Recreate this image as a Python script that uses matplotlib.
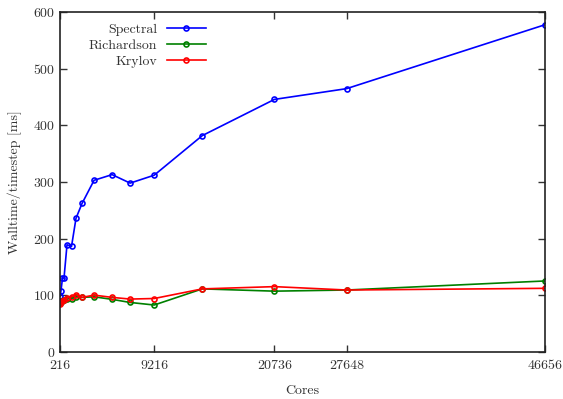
import matplotlib
matplotlib.use("Agg")
import matplotlib.pyplot as plt

cores = [216, 288, 432, 576, 864, 1296, 1728, 2304, 3456, 5184, 6912,
         9216, 13824, 20736, 27648, 46656]
spectral = [98, 108, 130, 130, 189, 186, 236, 262, 303, 313, 298,
            312, 382, 446, 465, 578]
richardson = [86, 88, 89, 91, 93, 94, 97, 96, 97, 92.5, 87,
              82.5, 111, 107, 109, 125]
krylov = [84, 87, 90, 92, 95, 97, 101, 96, 100, 96, 93,
          94, 111, 115, 109, 112]
xticks = [216, 9216, 20736, 27648, 46656]
yticks = [0, 100, 200, 300, 400, 500, 600]

plt.rcParams['font.family'] = ['cmr10', 'DejaVu Serif']
plt.rcParams['font.size'] = 10
plt.rcParams['axes.formatter.use_mathtext'] = True

fig = plt.figure(figsize=(5.63, 3.99), dpi=100)
ax = fig.add_axes([0.107, 0.1186, 0.861, 0.8506])

series = [("Spectral", spectral, "#0000ff"),
          ("Richardson", richardson, "#008000"),
          ("Krylov", krylov, "#ff0000")]
for name, vals, col in series:
    ax.plot(cores, vals, color=col, lw=1.2, marker='o', ms=3.6,
            mfc='none', mec=col, mew=1.2, label=name)

ax.set_xlim(216, 46656)
ax.set_ylim(0, 600)
ax.set_xticks(xticks)
ax.set_xticklabels([str(v) for v in xticks])
ax.set_yticks(yticks)
ax.tick_params(direction='in', top=True, right=True, length=5, width=1,
               labelsize=10, colors='#333333', labelcolor='#333333')
ax.tick_params(axis='x', pad=6)
for s in ax.spines.values():
    s.set_linewidth(1.2)
    s.set_color('#222222')

ax.set_xlabel("Cores", color='#333333', labelpad=9)
ax.set_ylabel("Walltime/timestep [ms]", color='#333333', labelpad=8)

leg = ax.legend(loc='upper left', bbox_to_anchor=(0.033, 1.005),
                frameon=False, markerfirst=False, handlelength=2.8,
                labelspacing=0.25, fontsize=10, handletextpad=0.7)
for t in leg.get_texts():
    t.set_ha('right')
    t.set_color('#333333')

fig.savefig("out.png", dpi=100)
